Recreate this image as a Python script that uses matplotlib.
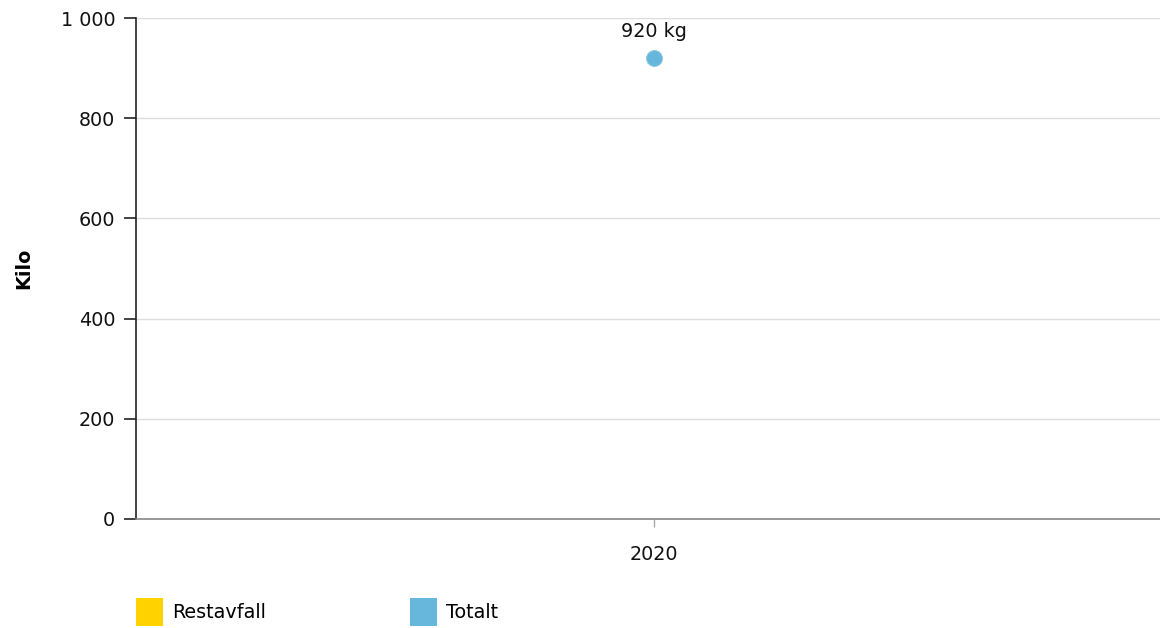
import matplotlib.pyplot as plt
from matplotlib.patches import Patch

# data
years = ["2020"]
restavfall = []          # ingen värden i diagrammet
totalt = [920]
series_names = ["Restavfall", "Totalt"]
series_colors = ["#FFD200", "#67B7DC"]
yticks = [0, 200, 400, 600, 800, 1000]

plt.rcParams['font.family'] = ['DejaVu Sans']
FS = 13.8

fig = plt.figure(figsize=(11.6, 6.28), dpi=100)
ax = fig.add_axes([136/1160, 1-519/628, 1-136/1160, (519-18)/628])

x = list(range(len(years)))
ax.plot(x, totalt, 'o', color=series_colors[1], markersize=11.5,
        markeredgecolor='#8cc9e3', markeredgewidth=0.6, zorder=3)
for xi, v in zip(x, totalt):
    ax.annotate(f"{v} kg", (xi, v), xytext=(0, 12), textcoords='offset points',
                ha='center', va='bottom', fontsize=FS, color='#111111')

ax.set_xlim(-0.506, 0.494)
ax.set_ylim(0, 1000)
ax.set_xticks(x)
ax.set_xticklabels(years)
ax.set_yticks(yticks)
ax.set_yticklabels([f"{t:,}".replace(",", " ") for t in yticks])

ax.grid(axis='y', color='#dddddd', linewidth=1)
ax.set_axisbelow(True)
for s in ['top', 'right']:
    ax.spines[s].set_visible(False)
ax.spines['left'].set_color('#222222')
ax.spines['left'].set_linewidth(1.2)
ax.spines['bottom'].set_color('#888888')
ax.spines['bottom'].set_linewidth(1.2)
ax.tick_params(axis='y', length=9, width=1.2, color='#222222', labelsize=FS,
               pad=6, labelcolor='#111111')
ax.tick_params(axis='x', length=6, width=1, color='#aaaaaa', labelsize=FS,
               pad=13, labelcolor='#111111')

ax.set_ylabel("Kilo", fontsize=FS, fontweight='bold', labelpad=0)
ax.yaxis.set_label_coords(-0.1, 0.5)

handles = [Patch(facecolor=c, edgecolor='none') for c in series_colors]
fig.legend(handles, series_names, loc='lower left', bbox_to_anchor=(126/1160, -0.012),
           ncol=2, frameon=False, fontsize=FS, handlelength=1.45, handleheight=1.87,
           handletextpad=0.45, columnspacing=7.5, borderaxespad=0.1)

fig.savefig("out.png", dpi=100)
